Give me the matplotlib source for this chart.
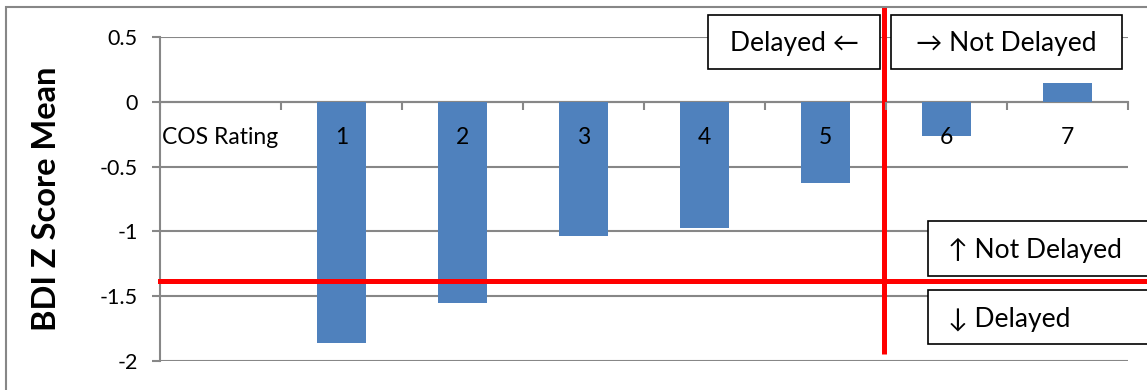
import numpy as np
import matplotlib
matplotlib.use("Agg")
import matplotlib.pyplot as plt
from matplotlib.patches import Rectangle

# ---- data ----
categories = ["COS Rating", "1", "2", "3", "4", "5", "6", "7"]
bdi_z_mean = [np.nan, -1.864, -1.556, -1.036, -0.974, -0.623, -0.262, 0.144]
y_ticks = [0.5, 0, -0.5, -1, -1.5, -2]
y_tick_labels = ["0.5", "0", "-0.5", "-1", "-1.5", "-2"]
cutoff_bdi = -1.385      # horizontal cutoff
cutoff_cos = 5.48        # vertical cutoff (category position)
y_label = "BDI Z Score Mean"
box_texts = ["Delayed \u2190", "\u2192 Not Delayed", "\u2191 Not Delayed", "\u2193 Delayed"]

W, H = 1147, 390
FONT = ["Lato", "DejaVu Sans"]
plt.rcParams["font.family"] = FONT

fig = plt.figure(figsize=(W / 100, H / 100), dpi=100)
fig.patch.set_facecolor("white")

def fx(p):
    return p / W

def fy(p):
    return 1 - p / H

L, R, T, B = 160, 1128, 37, 361
ax = fig.add_axes([fx(L), fy(B), fx(R) - fx(L), fy(T) - fy(B)])

GRID = "#878787"
BAR = "#4F81BD"
RED = "#FF0000"

x = np.arange(len(categories))
ax.bar(x, bdi_z_mean, width=0.40, color=BAR, zorder=3)

ax.set_xlim(-0.5, len(categories) - 0.5)
ax.set_ylim(-2, 0.5)
ax.set_yticks(y_ticks)
ax.set_yticklabels(y_tick_labels, fontsize=15.5)
ax.yaxis.grid(True, color=GRID, linewidth=1.5)
ax.set_axisbelow(True)

for s in ["top", "right"]:
    ax.spines[s].set_visible(False)
ax.spines["left"].set_color(GRID)
ax.spines["left"].set_linewidth(1.5)
ax.spines["bottom"].set_position(("data", 0))
ax.spines["bottom"].set_color(GRID)
ax.spines["bottom"].set_linewidth(1.5)
ax.spines["bottom"].set_zorder(2)

ax.tick_params(axis="y", direction="out", length=6, width=1.5, color=GRID, pad=10)
ax.set_xticks(x)
ax.set_xticklabels(categories, fontsize=16.5)
ax.tick_params(axis="x", which="major", length=0, pad=18.5)
ax.set_xticks(np.arange(-0.5, len(categories), 1.0), minor=True)
ax.tick_params(axis="x", which="minor", direction="out", length=6, width=1.5, color=GRID)
ax.xaxis.set_zorder(4)

ax.set_ylabel(y_label, fontsize=23.5, fontweight="bold")
ax.yaxis.set_label_coords((61 - L) / (R - L), 0.5)

# red cutoff lines
ax.axhline(cutoff_bdi, xmin=0, xmax=(W - L) / (R - L), color=RED, linewidth=3.6,
           clip_on=False, zorder=4)
ax.plot([cutoff_cos, cutoff_cos], [0.5 + (T - 7) / 130, 0.5 - (355 - T) / 130],
        color=RED, linewidth=3.6, clip_on=False, zorder=4, solid_capstyle="butt")

# outer chart border (left & top visible)
fig.patches.append(Rectangle((fx(6), -0.2), 1.2, fy(7) + 0.2, transform=fig.transFigure,
                             fill=False, edgecolor=GRID, linewidth=1.5, zorder=0))

# text boxes
boxes = [
    (708, 15, 880, 69, "center"),
    (891, 15, 1122, 69, "center"),
    (928, 221, 1170, 276, "left"),
    (928, 290, 1170, 344, "left"),
]
for (x0, y0, x1, y1, ha), txt in zip(boxes, box_texts):
    fig.patches.append(Rectangle((fx(x0), fy(y1)), fx(x1) - fx(x0), fy(y0) - fy(y1),
                                 transform=fig.transFigure, facecolor="white",
                                 edgecolor="black", linewidth=1.2, zorder=5))
    ty = fy((y0 + y1) / 2 + 2)
    if ha == "center":
        tx = fx((x0 + x1) / 2)
    else:
        tx = fx(x0 + 20)
    fig.text(tx, ty, txt, ha=ha, va="center", fontsize=19, color="black", zorder=6)

fig.savefig("out.png", dpi=100)
